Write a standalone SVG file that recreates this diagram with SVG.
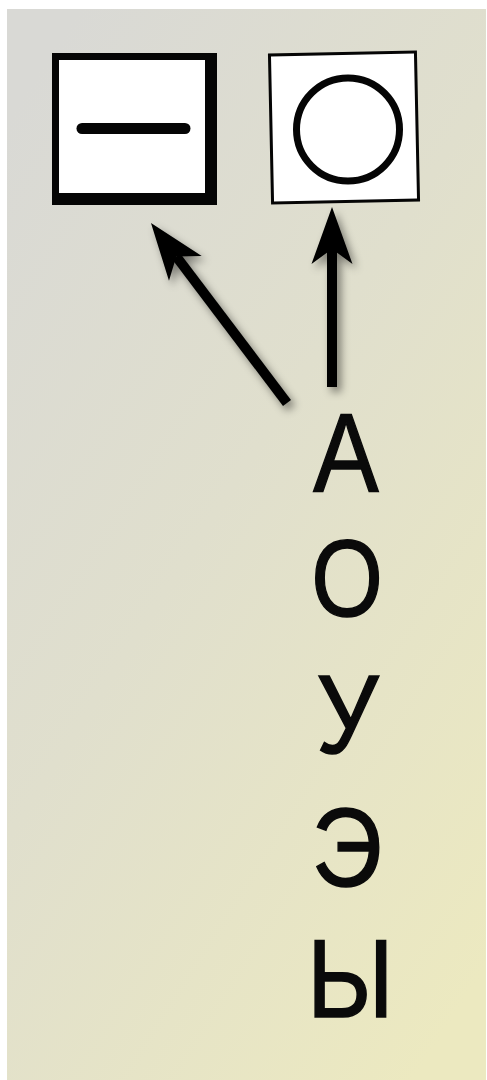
<svg xmlns="http://www.w3.org/2000/svg" width="487" height="1080" viewBox="0 0 487 1080">
  <style>
    .letter { font-family: "Liberation Sans", Arial, sans-serif; font-size: 98px; fill: #0a0a0a; stroke: #0a0a0a; stroke-width: 1.3; text-anchor: middle; }
    .shaft { stroke: #000; stroke-width: 10; fill: none; stroke-linecap: butt; }
  </style>
  <defs>
    <linearGradient id="bg" x1="0.15" y1="0" x2="0.85" y2="1">
      <stop offset="0" stop-color="#d9d9d5"/>
      <stop offset="0.45" stop-color="#e0dfcd"/>
      <stop offset="1" stop-color="#ece9c0"/>
    </linearGradient>
    <filter id="shadow" x="-30%" y="-30%" width="160%" height="160%">
      <feDropShadow dx="4" dy="5" stdDeviation="4" flood-color="#000" flood-opacity="0.45"/>
    </filter>
    <marker id="head" markerUnits="userSpaceOnUse" viewBox="-16 -21 59 42" markerWidth="59" markerHeight="42" refX="0" refY="0" orient="auto">
      <path d="M42,0 L-15,-20.5 L0,0 L-15,20.5 Z" fill="#000"/>
    </marker>
  </defs>
  <rect x="0" y="0" width="487" height="1080" fill="#ffffff"/>
  <rect x="7" y="9" width="479" height="1071" fill="url(#bg)"/>

  <g id="node-minus">
    <rect x="52" y="53" width="165" height="152" fill="#050505"/>
    <rect x="59" y="60" width="146" height="133" fill="#ffffff"/>
    <line x1="82" y1="128.5" x2="185" y2="128.5" stroke="#050505" stroke-width="11" stroke-linecap="round"/>
  </g>

  <g id="node-circle">
    <rect x="271" y="53.5" width="146" height="148" fill="#ffffff" stroke="#050505" stroke-width="3" transform="rotate(-1.2 344 127.5)"/>
    <circle cx="348" cy="129.5" r="51.5" fill="none" stroke="#050505" stroke-width="7"/>
  </g>

  <g id="connectors" filter="url(#shadow)">
    <line class="shaft" x1="287" y1="403" x2="176.3" y2="256.5" marker-end="url(#head)"/>
    <line class="shaft" x1="332" y1="387" x2="332" y2="249" marker-end="url(#head)"/>
  </g>

  <g id="letters">
    <text class="letter" transform="translate(346 491) scale(1 1.14)">А</text>
    <text class="letter" transform="translate(347 616) scale(0.94 1.12)">О</text>
    <text class="letter" transform="translate(347.5 753) scale(1 1.14)">У</text>
    <text class="letter" transform="translate(347 886) scale(1 1.14)">Э</text>
    <text class="letter" transform="translate(350.5 1017) scale(1 1.14)">Ы</text>
  </g>
</svg>
